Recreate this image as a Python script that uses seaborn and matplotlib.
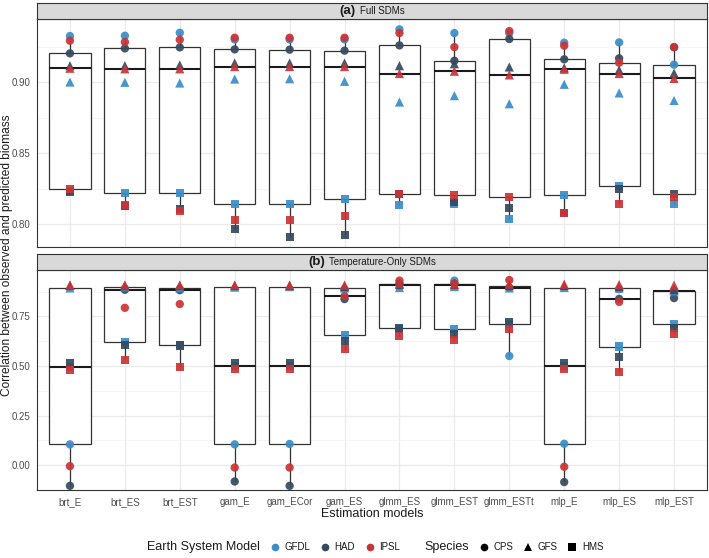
import numpy as np
import pandas as pd
import matplotlib
matplotlib.use("Agg")
import matplotlib.pyplot as plt
import seaborn as sns
from matplotlib.lines import Line2D
from matplotlib.offsetbox import TextArea, HPacker, AnchoredOffsetbox

sns.set_theme(style="white")
plt.rcParams['font.family'] = ['Liberation Sans', 'DejaVu Sans']

models = ["brt_E", "brt_ES", "brt_EST", "gam_E", "gam_ECor", "gam_ES",
          "glmm_ES", "glmm_EST", "glmm_ESTt", "mlp_E", "mlp_ES", "mlp_EST"]
esms = ["GFDL", "HAD", "IPSL"]
species = ["CPS", "GFS", "HMS"]
panel_titles = ["(a)", "(b)"]
panel_names = ["Full SDMs", "Temperature-Only SDMs"]

# ---- (a) Full SDMs ----
full_gfdl_cps = [0.9324, 0.9326, 0.9347, 0.9300, 0.9300, 0.9300, 0.9371, 0.9345, 0.9345, 0.9277, 0.9279, 0.9122]
full_had_cps  = [0.9202, 0.9237, 0.9244, 0.9230, 0.9228, 0.9221, 0.9258, 0.9150, 0.9303, 0.9160, 0.9167, 0.9245]
full_ipsl_cps = [0.9291, 0.9282, 0.9298, 0.9312, 0.9312, 0.9312, 0.9345, 0.9246, 0.9359, 0.9256, 0.9136, 0.9246]
full_gfdl_gfs = [0.9000, 0.8998, 0.8993, 0.9021, 0.9023, 0.9005, 0.8859, 0.8904, 0.8847, 0.8984, 0.8923, 0.8870]
full_had_gfs  = [0.9115, 0.9115, 0.9120, 0.9134, 0.9134, 0.9134, 0.9115, 0.9129, 0.9106, 0.9100, 0.9085, 0.9063]
full_ipsl_gfs = [0.9097, 0.9093, 0.9093, 0.9109, 0.9109, 0.9109, 0.9060, 0.9076, 0.9050, 0.9090, 0.9060, 0.9025]
full_gfdl_hms = [0.8230, 0.8218, 0.8218, 0.8141, 0.8138, 0.8174, 0.8134, 0.8143, 0.8038, 0.8202, 0.8268, 0.8138]
full_had_hms  = [0.8225, 0.8130, 0.8108, 0.7967, 0.7906, 0.7920, 0.8210, 0.8157, 0.8110, 0.8080, 0.8249, 0.8214]
full_ipsl_hms = [0.8246, 0.8134, 0.8092, 0.8030, 0.8026, 0.8056, 0.8209, 0.8202, 0.8190, 0.8077, 0.8143, 0.8190]

# ---- (b) Temperature-Only SDMs ----
temp_gfdl_cps = [0.105, 0.890, 0.888, 0.105, 0.107, 0.887, 0.910, 0.930, 0.550, 0.108, 0.887, 0.876]
temp_had_cps  = [-0.104, 0.884, 0.882, -0.082, -0.104, 0.837, 0.915, 0.915, 0.895, -0.085, 0.838, 0.842]
temp_ipsl_cps = [-0.005, 0.793, 0.812, -0.012, -0.012, 0.852, 0.930, 0.915, 0.933, -0.008, 0.823, 0.877]
temp_gfdl_gfs = [0.893, 0.898, 0.893, 0.897, 0.900, 0.893, 0.895, 0.900, 0.893, 0.895, 0.892, 0.878]
temp_had_gfs  = [0.905, 0.905, 0.905, 0.905, 0.905, 0.900, 0.910, 0.910, 0.905, 0.905, 0.900, 0.885]
temp_ipsl_gfs = [0.908, 0.908, 0.908, 0.908, 0.908, 0.908, 0.915, 0.912, 0.912, 0.912, 0.910, 0.907]
temp_gfdl_hms = [0.497, 0.622, 0.607, 0.500, 0.500, 0.655, 0.685, 0.688, 0.710, 0.500, 0.598, 0.713]
temp_had_hms  = [0.513, 0.605, 0.603, 0.517, 0.517, 0.628, 0.690, 0.660, 0.722, 0.517, 0.545, 0.692]
temp_ipsl_hms = [0.482, 0.532, 0.493, 0.483, 0.483, 0.587, 0.653, 0.630, 0.688, 0.483, 0.468, 0.663]

full = {("GFDL", "CPS"): full_gfdl_cps, ("HAD", "CPS"): full_had_cps, ("IPSL", "CPS"): full_ipsl_cps,
        ("GFDL", "GFS"): full_gfdl_gfs, ("HAD", "GFS"): full_had_gfs, ("IPSL", "GFS"): full_ipsl_gfs,
        ("GFDL", "HMS"): full_gfdl_hms, ("HAD", "HMS"): full_had_hms, ("IPSL", "HMS"): full_ipsl_hms}
temp = {("GFDL", "CPS"): temp_gfdl_cps, ("HAD", "CPS"): temp_had_cps, ("IPSL", "CPS"): temp_ipsl_cps,
        ("GFDL", "GFS"): temp_gfdl_gfs, ("HAD", "GFS"): temp_had_gfs, ("IPSL", "GFS"): temp_ipsl_gfs,
        ("GFDL", "HMS"): temp_gfdl_hms, ("HAD", "HMS"): temp_had_hms, ("IPSL", "HMS"): temp_ipsl_hms}

rows = []
for pi, d in enumerate([full, temp]):
    for (e, sp), vals in d.items():
        for m, v in zip(models, vals):
            rows.append(dict(panel=pi, model=m, esm=e, species=sp, value=v))
df = pd.DataFrame(rows)

palette = {"GFDL": "#3A8DC8", "HAD": "#34495E", "IPSL": "#CB3335"}
markers = {"CPS": "o", "GFS": "^", "HMS": "s"}
msizes = {"CPS": 6.0, "GFS": 6.6, "HMS": 5.8}

W, H = 709, 558
fig = plt.figure(figsize=(W / 100, H / 100), dpi=100)

def fx(px):
    return px / W

def fy(py):
    return 1 - py / H

panel_px = [(19, 247), (270, 490)]
strip_px = [(3, 18.5), (254, 269.5)]
left_px, right_px = 37, 707
ylims = [(0.7838, 0.9444), (-0.1165, 0.9835)]

ticks = [[0.80, 0.85, 0.90], [0.00, 0.25, 0.50, 0.75]]
minor = [[0.825, 0.875, 0.925], [-0.125, 0.125, 0.375, 0.625, 0.875]]

axes = []
for pi in range(2):
    top, bot = panel_px[pi]
    ax = fig.add_axes([fx(left_px), fy(bot), fx(right_px - left_px), (bot - top) / H])
    axes.append(ax)
    sub = df[df.panel == pi]
    sns.boxplot(data=sub, x="model", y="value", order=models, ax=ax,
                width=0.75, whis=1.5, showfliers=False, showcaps=False,
                fill=True, color="white", linecolor="#333333", linewidth=0.9,
                boxprops=dict(facecolor="white", edgecolor="#333333", zorder=2),
                medianprops=dict(color="#1A1A1A", linewidth=1.5),
                whiskerprops=dict(color="#333333", linewidth=0.9))
    for sp in ["HMS", "CPS", "GFS"]:
        s2 = sub[sub.species == sp]
        sns.stripplot(data=s2, x="model", y="value", order=models, hue="esm",
                      hue_order=esms, palette=palette, marker=markers[sp],
                      size=msizes[sp], jitter=False, dodge=False, linewidth=0,
                      alpha=0.92, legend=False, ax=ax, zorder=4)
    ax.set_ylim(*ylims[pi])
    ax.set_xlim(-0.6, len(models) - 0.4)
    ax.set_yticks(ticks[pi])
    ax.set_yticklabels([f"{t:.2f}" for t in ticks[pi]])
    ax.set_yticks(minor[pi], minor=True)
    ax.grid(True, which="major", color="#EBEBEB", linewidth=0.9, zorder=0)
    ax.grid(True, which="minor", axis="y", color="#F3F3F3", linewidth=0.5, zorder=0)
    ax.set_axisbelow(True)
    ax.set_xlabel("")
    ax.set_ylabel("")
    for s in ax.spines.values():
        s.set_visible(True)
        s.set_color("#333333")
        s.set_linewidth(0.8)
    ax.tick_params(axis="both", which="major", length=3, width=0.6, color="#333333",
                   labelsize=7, labelcolor="#4D4D4D", pad=2)
    ax.tick_params(axis="both", which="minor", length=0)
    if pi == 0:
        ax.tick_params(axis="x", labelbottom=False)
    # strip
    st, sb = strip_px[pi]
    sax = fig.add_axes([fx(left_px), fy(sb), fx(right_px - left_px), (sb - st) / H])
    sax.set_xticks([]); sax.set_yticks([])
    sax.set_facecolor("#D9D9D9")
    for s in sax.spines.values():
        s.set_color("#333333"); s.set_linewidth(0.8)
    t1 = TextArea(panel_titles[pi], textprops=dict(fontsize=9.5, fontweight="bold", color="#1A1A1A"))
    t2 = TextArea(panel_names[pi], textprops=dict(fontsize=7, color="#1A1A1A"))
    box = HPacker(children=[t1, t2], align="baseline", pad=0, sep=3)
    anc = AnchoredOffsetbox(loc="center", child=box, frameon=False, pad=0,
                            bbox_to_anchor=(0.5, 0.5), bbox_transform=sax.transAxes, borderpad=0)
    sax.add_artist(anc)

fig.text(fx(7), fy(255), "Correlation between observed and predicted biomass",
         rotation=90, ha="center", va="center", fontsize=8.6, color="#1A1A1A")
fig.text(fx((left_px + right_px) / 2), fy(514), "Estimation models",
         ha="center", va="center", fontsize=9, color="#1A1A1A")

handles = [Line2D([], [], linestyle="none", marker=None)]
labels = ["Earth System Model"]
for e in esms:
    handles.append(Line2D([], [], linestyle="none", marker="o", markersize=5.5,
                          markerfacecolor=palette[e], markeredgewidth=0))
    labels.append(e)
handles.append(Line2D([], [], linestyle="none", marker=None))
labels.append("Species")
for sp in species:
    handles.append(Line2D([], [], linestyle="none", marker=markers[sp], markersize=5.5,
                          markerfacecolor="black", markeredgewidth=0))
    labels.append(sp)
leg = fig.legend(handles, labels, loc="center", bbox_to_anchor=(fx(368), fy(547)),
                 ncol=8, frameon=False, fontsize=7, handlelength=1.0, handletextpad=0.5,
                 columnspacing=1.0, borderaxespad=0)
for i, t in enumerate(leg.get_texts()):
    t.set_color("#1A1A1A")
    if labels[i] in ("Earth System Model", "Species"):
        t.set_fontsize(9)

fig.savefig("out.png", dpi=100)
